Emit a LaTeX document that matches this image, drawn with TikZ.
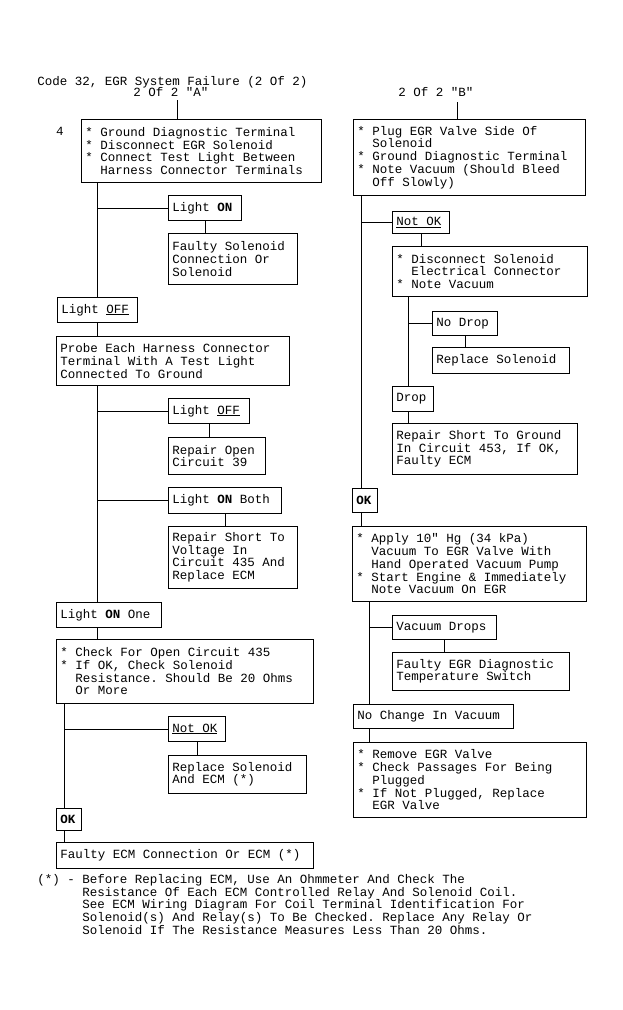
\documentclass[tikz,border=0pt]{standalone}
\usepackage{fontspec}
\setmonofont{Liberation Mono}
\newcommand{\chartfont}{\ttfamily\fontsize{12.5}{12.7}\selectfont}
\newcommand{\fixspaces}{\spaceskip 7.5pt\relax\xspaceskip 7.5pt\relax}
\tikzset{
  box/.style = {draw, anchor=north west, align=left, inner xsep=4pt, inner ysep=0pt},
  label/.style = {inner sep=0pt}
}
\newcommand{\bl}{*~}
\newcommand{\hang}{\phantom{*~}}

\begin{document}
\begin{tikzpicture}[x=1pt, y=1pt, line width=0.8pt, font=\chartfont,
    execute at begin node=\fixspaces]
      \useasboundingbox (0,0) rectangle (623,-1010);

      \node[label, anchor=west] (title) at (37,-82) {Code 32, EGR System Failure (2 Of 2)};
      \node[label] (labelA) at (171,-92) {2 Of 2 "A"};
      \node[label] (labelB) at (436,-92) {2 Of 2 "B"};
      \node[label] (stepno) at (60,-131) {4};

      \coordinate (topA) at (177,-100);
      \coordinate (topB) at (457,-102);
      \coordinate (spineA) at (97,0);
      \coordinate (spineC) at (64,0);
      \coordinate (spineB) at (361,0);
      \coordinate (spineD) at (408,0);
      \coordinate (spineE) at (369,0);

      % column A
      \node[box, text width=232pt, minimum height=63pt] (ground) at (81,-119)
      {\bl Ground Diagnostic Terminal\\ \bl Disconnect EGR Solenoid\\ \bl Connect Test Light Between\\ \hang Harness Connector Terminals};

      \node[box, text width=65pt, minimum height=25pt] (lighton) at (168,-195) {Light \textbf{ON}};

      \node[box, text width=121pt, minimum height=51pt] (faultysol) at (168,-233)
      {Faulty Solenoid\\ Connection Or\\ Solenoid};

      \node[box, text width=72pt, minimum height=25pt] (lightoff) at (57,-297) {Light \underline{OFF}};

      \node[box, text width=225pt, minimum height=49pt] (probe) at (56,-336)
      {Probe Each Harness Connector\\ Terminal With A Test Light\\ Connected To Ground};

      \node[box, text width=73pt, minimum height=25pt] (lightoffB) at (168,-398) {Light \underline{OFF}};

      \node[box, text width=89pt, minimum height=37pt] (repopen) at (168,-437)
      {Repair Open\\ Circuit 39};

      \node[box, text width=105pt, minimum height=26pt] (lightonboth) at (168,-487) {Light \textbf{ON} Both};

      \node[box, text width=121pt, minimum height=62pt] (repshort) at (168,-526)
      {Repair Short To\\ Voltage In\\ Circuit 435 And\\ Replace ECM};

      \node[box, text width=97pt, minimum height=25pt] (lightonone) at (56,-602) {Light \textbf{ON} One};

      \node[box, text width=249pt, minimum height=64pt] (checkopen) at (56,-639)
      {\bl Check For Open Circuit 435\\ \bl If OK, Check Solenoid\\ \hang Resistance. Should Be 20 Ohms\\ \hang Or More};

      \node[box, text width=49pt, minimum height=25pt] (notok) at (168,-716) {\underline{Not OK}};

      \node[box, text width=130pt, minimum height=38pt] (replsol) at (168,-755)
      {Replace Solenoid\\ And ECM (*)};

      \node[box, text width=17pt, minimum height=22pt] (okleft) at (56,-808) {\textbf{OK}};

      \node[box, text width=249pt, minimum height=26pt] (faultyecm) at (56,-842)
      {Faulty ECM Connection Or ECM (*)};

      % column B
      \node[box, text width=224pt, minimum height=76pt] (plug) at (353,-119)
      {\bl Plug EGR Valve Side Of\\ \hang Solenoid\\ \bl Ground Diagnostic Terminal\\ \bl Note Vacuum (Should Bleed\\ \hang Off Slowly)};

      \node[box, text width=49pt, minimum height=22pt] (notokr) at (392,-211) {\underline{Not OK}};

      \node[box, text width=187pt, minimum height=50pt] (disconn) at (392,-246)
      {\bl Disconnect Solenoid\\ \hang Electrical Connector\\ \bl Note Vacuum};

      \node[box, text width=57pt, minimum height=24pt] (nodrop) at (432,-311) {No Drop};

      \node[box, text width=129pt, minimum height=26pt] (replsolr) at (432,-347) {Replace Solenoid};

      \node[box, text width=33pt, minimum height=25pt] (drop) at (392,-386) {Drop};

      \node[box, text width=177pt, minimum height=51pt] (repground) at (392,-423)
      {Repair Short To Ground\\ In Circuit 453, If OK,\\ Faulty ECM};

      \node[box, text width=17pt, minimum height=24pt] (okright) at (352,-488) {\textbf{OK}};

      \node[box, text width=226pt, minimum height=75pt] (apply) at (352,-526)
      {\bl Apply 10" Hg (34 kPa)\\ \hang Vacuum To EGR Valve With\\ \hang Hand Operated Vacuum Pump\\ \bl Start Engine \& Immediately\\ \hang Note Vacuum On EGR};

      \node[box, text width=96pt, minimum height=24pt] (vacdrops) at (392,-615) {Vacuum Drops};

      \node[box, text width=169pt, minimum height=38pt] (faultyegr) at (392,-652)
      {Faulty EGR Diagnostic\\ Temperature Switch};

      \node[box, text width=152pt, minimum height=24pt] (nochange) at (353,-704) {No Change In Vacuum};

      \node[box, text width=225pt, minimum height=75pt] (remove) at (353,-742)
      {\bl Remove EGR Valve\\ \bl Check Passages For Being\\ \hang Plugged\\ \bl If Not Plugged, Replace\\ \hang EGR Valve};

      \node[label, anchor=north west, align=left] (footnote) at (37,-874)
      {(*) - Before Replacing ECM, Use An Ohmmeter And Check The\\
       \phantom{(*) - }Resistance Of Each ECM Controlled Relay And Solenoid Coil.\\
       \phantom{(*) - }See ECM Wiring Diagram For Coil Terminal Identification For\\
       \phantom{(*) - }Solenoid(s) And Relay(s) To Be Checked. Replace Any Relay Or\\
       \phantom{(*) - }Solenoid If The Resistance Measures Less Than 20 Ohms.};

      % connectors A
      \draw (topA) -- (topA |- ground.north);
      \draw (spineA |- ground.south) -- (spineA |- lightoff.north);
      \draw (lighton.west) -- (lighton.west -| spineA);
      \draw (lighton.south) -- (lighton.south |- faultysol.north);
      \draw (spineA |- lightoff.south) -- (spineA |- probe.north);
      \draw (spineA |- probe.south) -- (spineA |- lightonone.north);
      \draw (lightoffB.west) -- (lightoffB.west -| spineA);
      \draw (lightoffB.south) -- (lightoffB.south |- repopen.north);
      \draw (lightonboth.west) -- (lightonboth.west -| spineA);
      \draw (lightonboth.south) -- (lightonboth.south |- repshort.north);
      \draw (spineA |- lightonone.south) -- (spineA |- checkopen.north);
      \draw (spineC |- checkopen.south) -- (spineC |- okleft.north);
      \draw (notok.west) -- (notok.west -| spineC);
      \draw (notok.south) -- (notok.south |- replsol.north);
      \draw (spineC |- okleft.south) -- (spineC |- faultyecm.north);

      % connectors B
      \draw (topB) -- (topB |- plug.north);
      \draw (spineB |- plug.south) -- (spineB |- okright.north);
      \draw (notokr.west) -- (notokr.west -| spineB);
      \draw (notokr.south) -- (notokr.south |- disconn.north);
      \draw (spineD |- disconn.south) -- (spineD |- drop.north);
      \draw (nodrop.west) -- (nodrop.west -| spineD);
      \draw (nodrop.south) -- (nodrop.south |- replsolr.north);
      \draw (spineD |- drop.south) -- (spineD |- repground.north);
      \draw (spineB |- okright.south) -- (spineB |- apply.north);
      \draw (spineE |- apply.south) -- (spineE |- nochange.north);
      \draw (vacdrops.west) -- (vacdrops.west -| spineE);
      \draw (vacdrops.south) -- (vacdrops.south |- faultyegr.north);
      \draw (spineE |- nochange.south) -- (spineE |- remove.north);
    \end{tikzpicture}
\end{document}
